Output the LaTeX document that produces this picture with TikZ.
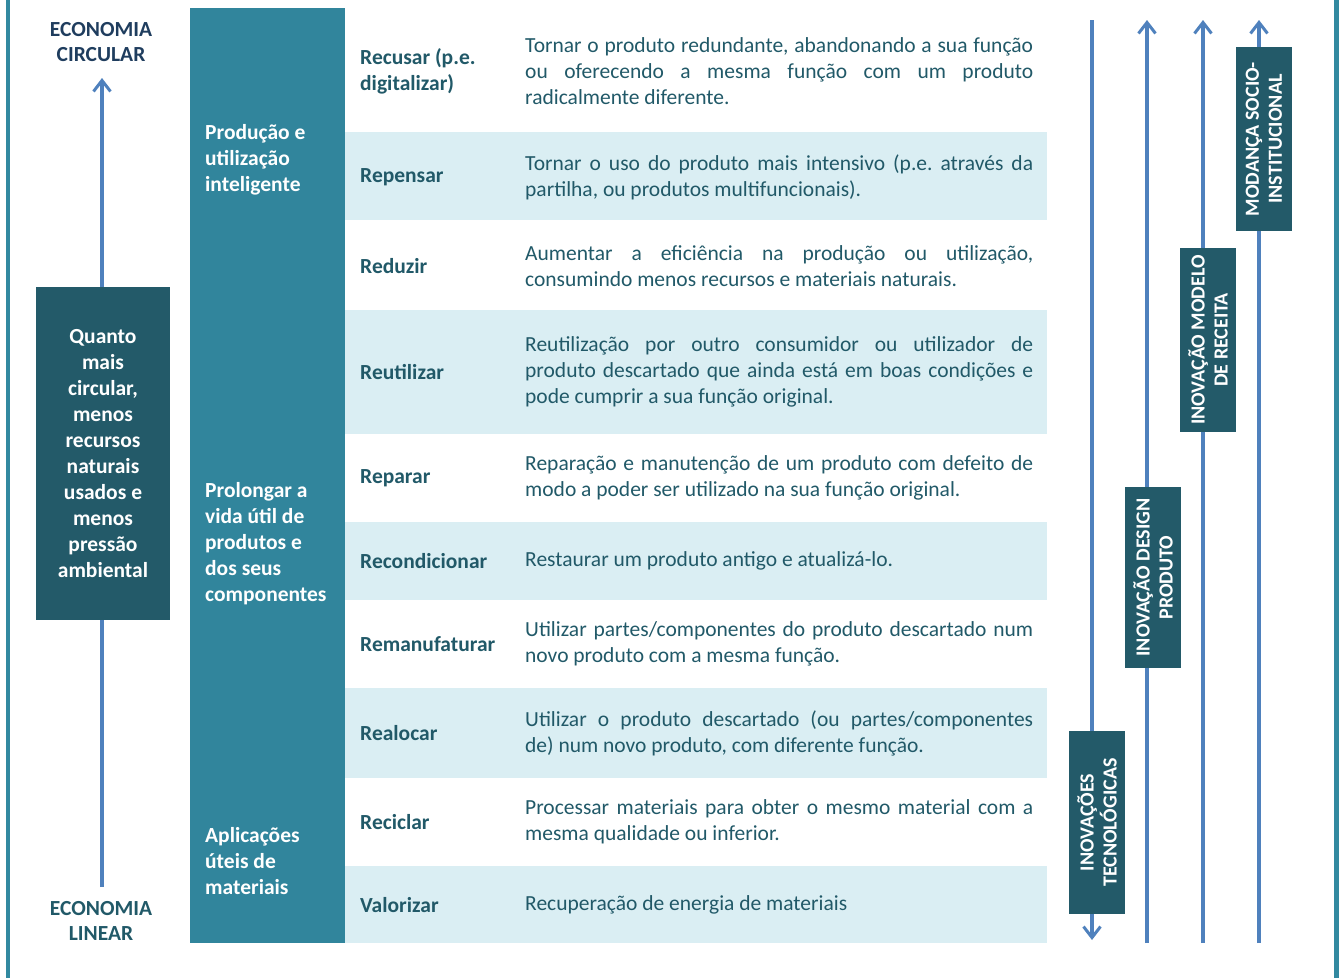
\documentclass[tikz,border=0pt]{standalone}
\usepackage{fontspec}
\setmainfont{Carlito}
\frenchspacing
\usetikzlibrary{arrows.meta}
\definecolor{darkbox}{HTML}{235A69}
\definecolor{midteal}{HTML}{31859C}
\definecolor{lightband}{HTML}{DAEEF3}
\definecolor{txt}{HTML}{215968}
\definecolor{navy}{HTML}{1F3D5E}
\definecolor{arrowblue}{HTML}{4F81BD}
\definecolor{frameteal}{HTML}{3289A0}
\newcommand{\fs}{\fontsize{21.5}{26}\selectfont}
\tikzset{
  base/.style={font=\fs, inner sep=0pt},
  rowlabel/.style={base, anchor=west, text=txt, font=\fs\bfseries, align=left},
  desc/.style={base, anchor=west, text=txt},
  grouplabel/.style={base, anchor=west, text=white, font=\fs\bfseries, align=left},
  ecolabel/.style={base, font=\fontsize{21.5}{25}\selectfont\bfseries, align=center},
  vbox/.style={fill=darkbox, text=white, font=\fontsize{20}{23}\selectfont\bfseries, align=center, inner sep=0pt, rotate=90, minimum height=56pt},
  flow/.style={draw=arrowblue, line width=3.5pt},
  flowtip/.style={flow, -{Straight Barb[length=11pt,width=17pt,line width=3pt]}},
}
\newcommand{\dsc}[1]{\parbox{508pt}{\fs\frenchspacing #1}}
\begin{document}
\begin{tikzpicture}[x=1pt,y=-1pt]
\useasboundingbox (0,0) rectangle (1339,978);
% frame lines
\draw[frameteal, line width=4pt] (8,0) -- (8,978);
\draw[frameteal, line width=5pt] (1336.5,0) -- (1336.5,978);

% left arrow and labels
\coordinate (la0) at (102,887);
\coordinate (la1) at (102,78);
\draw[flowtip] (la0) -- (la1);
\node[ecolabel, text=navy] (ec) at (101,42) {ECONOMIA\\CIRCULAR};
\node[ecolabel, text=txt] (el) at (101,921) {ECONOMIA\\LINEAR};
\node[fill=darkbox, text=white, font=\fs\bfseries, align=center, minimum width=134pt, minimum height=333pt, inner sep=0pt] (quanto) at (103,453.5) {Quanto\\mais\\circular,\\menos\\recursos\\naturais\\usados e\\menos\\pressão\\ambiental};

% middle column
\fill[midteal] (190,8) rectangle (345,943);
\foreach \a/\b in {132/220, 310/434, 522/600, 688/778, 866/943}
  \fill[lightband] (345,\a) rectangle (1047,\b);

\node[grouplabel] (g1) at (205,160) {Produção e\\utilização\\inteligente};
\node[grouplabel] (g2) at (205,544) {Prolongar a\\vida útil de\\produtos e\\dos seus\\componentes};
\node[grouplabel] (g3) at (205,861) {Aplicações\\úteis de\\materiais};

% row labels
\node[rowlabel] (r1) at (360,71) {Recusar (p.e.\\digitalizar)};
\node[rowlabel] (r2) at (360,177) {Repensar};
\node[rowlabel] (r3) at (360,266) {Reduzir};
\node[rowlabel] (r4) at (360,372) {Reutilizar};
\node[rowlabel] (r5) at (360,478) {Reparar};
\node[rowlabel] (r6) at (360,561) {Recondicionar};
\node[rowlabel] (r7) at (360,644) {Remanufaturar};
\node[rowlabel] (r8) at (360,733) {Realocar};
\node[rowlabel] (r9) at (360,822) {Reciclar};
\node[rowlabel] (r10) at (360,905) {Valorizar};

% descriptions
\node[desc] (d1) at (525,71) {\dsc{Tornar o produto redundante, abandonando a sua função\linebreak ou oferecendo a mesma função com um produto\linebreak radicalmente diferente.}};
\node[desc] (d2) at (525,177) {\dsc{Tornar o uso do produto mais intensivo (p.e. através da\linebreak partilha, ou produtos multifuncionais).}};
\node[desc] (d3) at (525,266) {\dsc{Aumentar a eficiência na produção ou utilização,\linebreak consumindo menos recursos e materiais naturais.}};
\node[desc] (d4) at (525,372) {\dsc{Reutilização por outro consumidor ou utilizador de\linebreak produto descartado que ainda está em boas condições e\linebreak pode cumprir a sua função original.}};
\node[desc] (d5) at (525,478) {\dsc{Reparação e manutenção de um produto com defeito de\linebreak modo a poder ser utilizado na sua função original.}};
\node[desc] (d6) at (525,561) {\dsc{Restaurar um produto antigo e atualizá-lo.}};
\node[desc] (d7) at (525,644) {\dsc{Utilizar partes/componentes do produto descartado num\linebreak novo produto com a mesma função.}};
\node[desc] (d8) at (525,733) {\dsc{Utilizar o produto descartado (ou partes/componentes\linebreak de) num novo produto, com diferente função.}};
\node[desc] (d9) at (525,822) {\dsc{Processar materiais para obter o mesmo material com a\linebreak mesma qualidade ou inferior.}};
\node[desc] (d10) at (525,905) {\dsc{Recuperação de energia de materiais}};

% right arrows
\coordinate (a1t) at (1092,20); \coordinate (a1b) at (1092,940);
\coordinate (a2t) at (1147,20); \coordinate (a2b) at (1147,943);
\coordinate (a3t) at (1203,20); \coordinate (a3b) at (1203,943);
\coordinate (a4t) at (1259,20); \coordinate (a4b) at (1259,943);
\draw[flowtip] (a1t) -- (a1b);
\draw[flowtip] (a2b) -- (a2t);
\draw[flowtip] (a3b) -- (a3t);
\draw[flowtip] (a4b) -- (a4t);

\node[vbox, minimum width=184pt] (ms) at (1264,139) {MODANÇA SOCIO-\\INSTITUCIONAL};
\node[vbox, minimum width=184pt] (imr) at (1208,340) {INOVAÇÃO MODELO\\DE RECEITA};
\node[vbox, minimum width=181pt] (idp) at (1153,577.5) {INOVAÇÃO DESIGN\\PRODUTO};
\node[vbox, minimum width=183pt] (it) at (1097,822.5) {INOVAÇÕES\\TECNOLÓGICAS};
\end{tikzpicture}
\end{document}
